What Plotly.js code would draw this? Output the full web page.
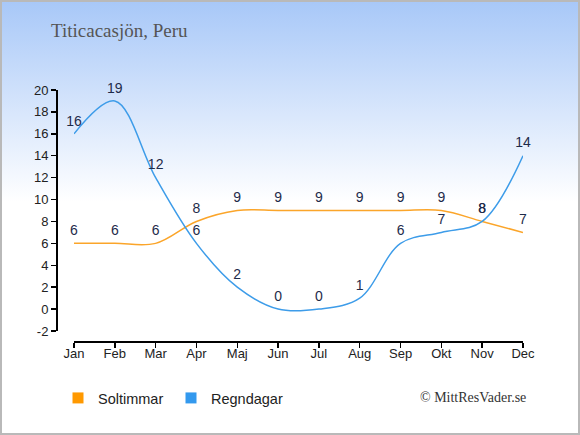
<!DOCTYPE html>
<html>
<head>
<meta charset="utf-8">
<script src="https://cdn.plot.ly/plotly-3.0.1.min.js"></script>
<style>
  html, body { margin: 0; padding: 0; }
  #frame {
    width: 580px; height: 435px; box-sizing: border-box;
    border: 2px solid #b9b9b9;
    background: linear-gradient(to bottom, #a8c8f8 0px, #ffffff 200px, #ffffff 435px);
    position: relative; overflow: hidden;
  }
  #chart { position: absolute; left: -2px; top: -2px; width: 580px; height: 435px; }
</style>
</head>
<body>
<div id="frame"><div id="chart"></div></div>
<script>
const months = ['Jan','Feb','Mar','Apr','Maj','Jun','Jul','Aug','Sep','Okt','Nov','Dec'];
const sunHours = [6,6,6,8,9,9,9,9,9,9,8,7];
const rainDays = [16,19,12,6,2,0,0,1,6,7,8,14];
const yTicks = [-2,0,2,4,6,8,10,12,14,16,18,20];
const yTickLabels = ['-2','0','2','4','6','8','10','12','14','16','18','20'];
const seriesNames = ['Soltimmar', 'Regndagar'];
const chartTitle = 'Titicacasjön, Peru';
const credit = '© MittResVader.se';

const W = 580, H = 435;
const labelFont = {family: 'Liberation Sans, Arial, sans-serif', size: 14, color: '#1e2b4a'};

const traces = [
  {
    x: months, y: sunHours, type: 'scatter', mode: 'lines+markers+text',
    text: sunHours.map(String), textposition: 'top center', textfont: labelFont,
    marker: {size: 6, color: 'rgba(0,0,0,0)'},
    line: {color: '#fba52a', width: 1.5, shape: 'spline', smoothing: 1},
    cliponaxis: false, showlegend: false, hoverinfo: 'skip'
  },
  {
    x: months, y: rainDays, type: 'scatter', mode: 'lines+markers+text',
    text: rainDays.map(String), textposition: 'top center', textfont: labelFont,
    marker: {size: 6, color: 'rgba(0,0,0,0)'},
    line: {color: '#3d9ce9', width: 1.5, shape: 'spline', smoothing: 1},
    cliponaxis: false, showlegend: false, hoverinfo: 'skip'
  },
  {
    x: [null], y: [null], type: 'scatter', mode: 'markers', name: seriesNames[0],
    marker: {symbol: 'square', size: 11, color: '#ff9900'}
  },
  {
    x: [null], y: [null], type: 'scatter', mode: 'markers', name: seriesNames[1],
    marker: {symbol: 'square', size: 11, color: '#3399ee'}
  }
];

const tickFont = {family: 'Liberation Sans, Arial, sans-serif', size: 13, color: '#222'};

const layout = {
  width: W, height: H,
  margin: {l: 0, r: 0, t: 0, b: 0, pad: 0},
  paper_bgcolor: 'rgba(0,0,0,0)',
  plot_bgcolor: 'rgba(0,0,0,0)',
  title: {
    text: chartTitle, x: 51 / W, xanchor: 'left', xref: 'paper',
    y: 1 - 30 / H, yanchor: 'middle', yref: 'paper',
    font: {family: 'Liberation Serif, serif', size: 19, color: '#555555'}
  },
  xaxis: {
    type: 'category', categoryorder: 'array', categoryarray: months,
    domain: [74 / W, 523 / W], range: [0, 11],
    anchor: 'free', position: 1 - 341 / H,
    showline: true, linecolor: '#000', linewidth: 1.5,
    ticks: 'outside', ticklen: 5, tickcolor: '#000', tickwidth: 1.5,
    ticklabelstandoff: -5,
    showgrid: false, zeroline: false, tickfont: tickFont, fixedrange: true
  },
  yaxis: {
    domain: [1 - 331 / H, 1 - 90 / H], range: [-2, 20],
    tickmode: 'array', tickvals: yTicks, ticktext: yTickLabels,
    anchor: 'free', position: 56 / W,
    showline: true, linecolor: '#000', linewidth: 1.5,
    ticks: 'outside', ticklen: 5, tickcolor: '#000', tickwidth: 1.5,
    showgrid: false, zeroline: false, tickfont: tickFont, fixedrange: true
  },
  legend: {
    orientation: 'h', x: 58 / W, xanchor: 'left', y: 1 - 398 / H, yanchor: 'middle',
    bgcolor: 'rgba(0,0,0,0)', font: {family: 'Liberation Sans, Arial, sans-serif', size: 14.5, color: '#222'},
    entrywidth: 68, entrywidthmode: 'pixels', itemclick: false, itemdoubleclick: false
  },
  annotations: [
    {
      text: credit, xref: 'paper', yref: 'paper', x: 528 / W, xanchor: 'right',
      y: 1 - 397 / H, yanchor: 'middle', showarrow: false,
      font: {family: 'Liberation Serif, serif', size: 14, color: '#333'}
    }
  ],
  showlegend: true
};

Plotly.newPlot('chart', traces, layout, {displayModeBar: false, staticPlot: true});
</script>
</body>
</html>
